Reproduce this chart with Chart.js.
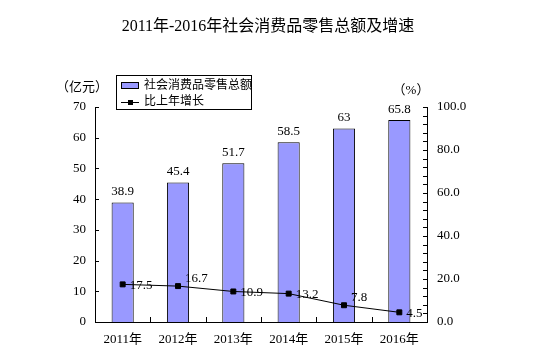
<!DOCTYPE html>
<html>
<head>
<meta charset="utf-8">
<script src="https://cdn.jsdelivr.net/npm/chart.js@4"></script>
<style>
  body { margin: 0; background: #fff; }
</style>
</head>
<body>
<canvas id="myChart" width="547" height="353"></canvas>
<script>
const years = ['2011年', '2012年', '2013年', '2014年', '2015年', '2016年'];
const retailSales = [38.9, 45.4, 51.7, 58.5, 63, 65.8];
const growthRate = [17.5, 16.7, 14.2, 13.2, 7.8, 4.5];
const growthLabels = ['17.5', '16.7', '10.9', '13.2', '7.8', '4.5'];
const growthLabelAbove = [false, true, false, false, true, false];
const leftTicks = [0, 10, 20, 30, 40, 50, 60, 70];
const rightTicks = [0, 20, 40, 60, 80, 100];

const FONT = '"Liberation Serif", "Noto Sans CJK SC", serif';
Chart.defaults.font.family = FONT;
Chart.defaults.color = '#000';

const decorPlugin = {
  id: 'decor',
  afterDatasetsDraw(chart) {
    const ctx = chart.ctx;
    const area = chart.chartArea;
    const x = chart.scales.x, y = chart.scales.y, y1 = chart.scales.y1;
    ctx.save();
    ctx.strokeStyle = '#000';
    ctx.lineWidth = 1;
    ctx.beginPath();
    // inward tick marks
    leftTicks.forEach(v => {
      const py = Math.round(y.getPixelForValue(v)) + 0.5;
      ctx.moveTo(area.left, py); ctx.lineTo(area.left + 4, py);
    });
    for (let v = 0; v <= 100; v += 4) {
      const py = Math.round(y1.getPixelForValue(v)) + 0.5;
      ctx.moveTo(area.right - 4, py); ctx.lineTo(area.right, py);
    }
    const half = (x.getPixelForValue(1) - x.getPixelForValue(0)) / 2;
    for (let i = 0; i < years.length - 1; i++) {
      const px = Math.round(x.getPixelForValue(i) + half) + 0.5;
      ctx.moveTo(px, area.bottom); ctx.lineTo(px, area.bottom - 5);
    }
    ctx.stroke();

    // value labels
    ctx.font = '13px ' + FONT;
    ctx.fillStyle = '#000';
    chart.getDatasetMeta(0).data.forEach((bar, i) => {
      ctx.textAlign = 'center';
      ctx.textBaseline = 'bottom';
      ctx.fillText(String(retailSales[i]), bar.x, bar.y - 4);
    });
    chart.getDatasetMeta(1).data.forEach((pt, i) => {
      ctx.textAlign = 'left';
      ctx.textBaseline = 'middle';
      const dy = growthLabelAbove[i] ? -8 : 1;
      ctx.fillText(growthLabels[i], pt.x + 7, pt.y + dy);
    });

    // title and units
    ctx.font = '16px ' + FONT;
    ctx.textAlign = 'center';
    ctx.fillText('2011年-2016年社会消费品零售总额及增速', 268, 27);
    ctx.font = '13px ' + FONT;
    ctx.fillText('（亿元）', 82, 88);
    ctx.fillText('（%）', 411, 91);

    // legend
    const ds = chart.data.datasets;
    ctx.fillStyle = '#fff';
    ctx.fillRect(116, 75, 136, 34);
    ctx.strokeRect(116.5, 75.5, 135, 34);
    ctx.fillStyle = ds[0].backgroundColor;
    ctx.fillRect(121, 83, 18, 6);
    ctx.strokeRect(121.5, 82.5, 17, 6);
    ctx.beginPath();
    ctx.moveTo(121, 102.5); ctx.lineTo(139, 102.5);
    ctx.stroke();
    ctx.fillStyle = '#000';
    ctx.fillRect(128, 100, 5, 5);
    ctx.font = '12px ' + FONT;
    ctx.textAlign = 'left';
    ctx.textBaseline = 'middle';
    ctx.fillText(ds[0].label, 144, 86);
    ctx.fillText(ds[1].label, 144, 102);
    ctx.restore();
  }
};

new Chart(document.getElementById('myChart'), {
  data: {
    labels: years,
    datasets: [
      {
        type: 'bar',
        label: '社会消费品零售总额',
        data: retailSales,
        yAxisID: 'y',
        backgroundColor: '#9999FF',
        borderColor: '#000',
        borderWidth: 1,
        barPercentage: 0.4,
        categoryPercentage: 1.0,
        order: 1,
      },
      {
        type: 'line',
        label: '比上年增长',
        data: growthRate,
        yAxisID: 'y1',
        borderColor: '#000',
        backgroundColor: '#000',
        borderWidth: 1,
        pointStyle: 'rect',
        pointRadius: 3.5,
        tension: 0,
        order: 0,
      },
    ],
  },
  options: {
    responsive: false,
    devicePixelRatio: 1,
    animation: false,
    layout: { padding: { top: 107, left: 0, right: 0, bottom: 0 } },
    plugins: {
      legend: { display: false },
      title: { display: false },
      tooltip: { enabled: false },
    },
    scales: {
      x: {
        grid: { display: false, drawTicks: false },
        border: { display: true, color: '#000', width: 1 },
        ticks: { font: { size: 13 }, color: '#000', padding: 10 },
        afterFit(scale) { scale.height = 31; },
      },
      y: {
        position: 'left',
        min: 0,
        max: 70,
        afterBuildTicks(scale) { scale.ticks = leftTicks.map(v => ({ value: v })); },
        grid: { display: false, drawTicks: false },
        border: { display: true, color: '#000', width: 1 },
        ticks: { font: { size: 13 }, color: '#000', padding: 9 },
        afterFit(scale) { scale.width = 95; },
      },
      y1: {
        position: 'right',
        min: 0,
        max: 100,
        afterBuildTicks(scale) { scale.ticks = rightTicks.map(v => ({ value: v })); },
        grid: { display: false, drawTicks: false },
        border: { display: true, color: '#000', width: 1 },
        ticks: { font: { size: 13 }, color: '#000', padding: 10, callback: v => v.toFixed(1) },
        afterFit(scale) { scale.width = 120; },
      },
    },
  },
  plugins: [decorPlugin],
});
</script>
</body>
</html>
